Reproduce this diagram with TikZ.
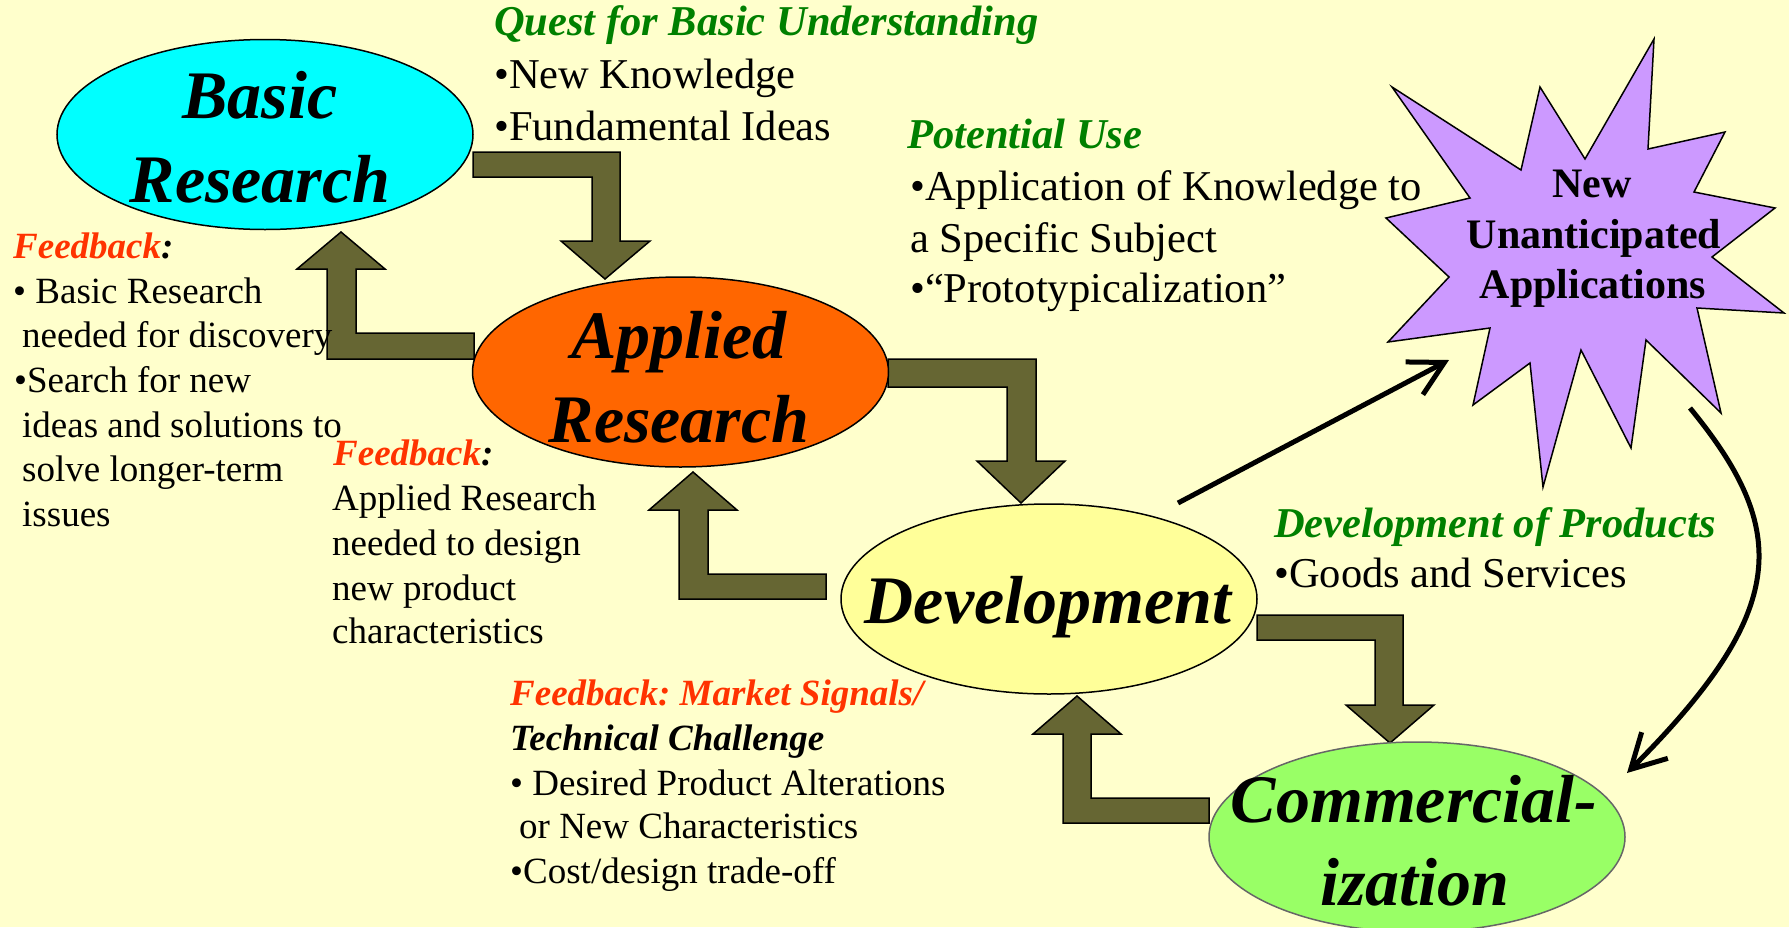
\documentclass[tikz,border=0pt]{standalone}
\usepackage{fontspec}
\setmainfont{Liberation Serif}
\usetikzlibrary{arrows.meta,shapes.geometric}
\definecolor{bgyellow}{HTML}{FFFFCC}
\definecolor{basiccyan}{HTML}{00FFFF}
\definecolor{appliedorange}{HTML}{FF6600}
\definecolor{devyellow}{HTML}{FFFF99}
\definecolor{commgreen}{HTML}{99FF66}
\definecolor{starlilac}{HTML}{CC99FF}
\definecolor{blockolive}{HTML}{666633}
\definecolor{headgreen}{HTML}{008000}
\definecolor{fbred}{HTML}{FF3300}
\definecolor{commborder}{HTML}{666666}
\tikzset{
  ell/.style={ellipse, draw=black, line width=1.5pt, minimum width=416pt, minimum height=190pt, inner sep=0pt},
  bigtext/.style={font=\fontsize{68pt}{82pt}\selectfont\bfseries\itshape, inner sep=0pt, anchor=base},
  startext/.style={font=\fontsize{42pt}{50pt}\selectfont\bfseries, inner sep=0pt, anchor=base},
  bodytext/.style={font=\fontsize{42.5pt}{50pt}\selectfont, inner sep=0pt, anchor=base west},
  smalltext/.style={font=\fontsize{37pt}{44pt}\selectfont, inner sep=0pt, anchor=base west},
  headtext/.style={font=\fontsize{42.5pt}{50pt}\selectfont\bfseries\itshape, text=headgreen, inner sep=0pt, anchor=base west},
  fbtext/.style={font=\fontsize{37pt}{44pt}\selectfont\bfseries\itshape, inner sep=0pt, anchor=base west},
  blockarrow/.style={fill=blockolive, draw=black, line width=1.5pt, line join=miter},
  thinarrow/.style={line width=5pt, -{Straight Barb[length=34pt,width=37pt,line width=5pt]}},
  starshape/.style={fill=starlilac, draw=black, line width=1.5pt, line join=miter},
}
\begin{document}
\frenchspacing
\begin{tikzpicture}[x=1pt,y=-1pt]
\fill[bgyellow] (0,0) rectangle (1789,927);
\useasboundingbox (0,0) rectangle (1789,927);

% block arrows
\draw[blockarrow] (473,152) -- (620,152) -- (620,241) -- (650,241) -- (605,279) -- (561,241) -- (592,241) -- (592,177) -- (473,177) -- cycle;
\draw[blockarrow] (474,333) -- (356,333) -- (356,269) -- (385,269) -- (341,232) -- (297,269) -- (327,269) -- (327,359) -- (474,359) -- cycle;
\draw[blockarrow] (888,359) -- (1036,359) -- (1036,461) -- (1065,461) -- (1021,503) -- (977,461) -- (1007,461) -- (1007,387) -- (888,387) -- cycle;
\draw[blockarrow] (826,574) -- (708,574) -- (708,510) -- (737,510) -- (693,472) -- (649,510) -- (679,510) -- (679,599) -- (826,599) -- cycle;
\draw[blockarrow] (1257,615) -- (1403,615) -- (1403,705) -- (1434,705) -- (1390,743) -- (1346,705) -- (1375,705) -- (1375,640) -- (1257,640) -- cycle;
\draw[blockarrow] (1209,798) -- (1091,798) -- (1091,734) -- (1121,734) -- (1077,696) -- (1033,734) -- (1063,734) -- (1063,823) -- (1209,823) -- cycle;

% ellipses
\node[ell, fill=basiccyan] (basic) at (265,134.5) {};
\node[ell, fill=appliedorange] (applied) at (680.5,372) {};
\node[ell, fill=devyellow] (dev) at (1049,599) {};
\node[ell, fill=commgreen, draw=commborder] (comm) at (1417,837) {};

% star
\draw[starshape] (1392,87) -- (1521,170) -- (1540,87) -- (1585,159) -- (1654,39) -- (1648,149) -- (1725,132) -- (1694,192) -- (1775,208) -- (1712,257) -- (1784,313) -- (1697,308) -- (1721,413) -- (1646,340) -- (1631,448) -- (1581,350) -- (1543,487) -- (1530,363) -- (1473,405) -- (1490,328) -- (1388,342) -- (1449,277) -- (1386,218) -- (1470,198) -- cycle;

% ellipse texts
\node[bigtext] (basicA) at (260,118) {Basic};
\node[bigtext] (basicB) at (260,202) {Research};
\node[bigtext] (appliedA) at (679,358) {Applied};
\node[bigtext] (appliedB) at (679,442) {Research};
\node[bigtext] (devA) at (1048,623) {Development};
\node[bigtext] (commA) at (1414,822) {Commercial-};
\node[bigtext] (commB) at (1415,905) {ization};
\node[startext] (starA) at (1592,197) {New};
\node[startext] (starB) at (1594,248) {Unanticipated};
\node[startext] (starC) at (1593,298) {Applications};

% top texts
\node[headtext] (questH) at (494,35) {Quest for Basic Understanding};
\node[bodytext] (quest1) at (494,88) {•New Knowledge};
\node[bodytext] (quest2) at (494,140) {•Fundamental Ideas};
\node[headtext] (potH) at (907,148) {Potential Use};
\node[bodytext] (pot1) at (910,200) {•Application of Knowledge to};
\node[bodytext] (pot2) at (910,252) {a Specific Subject};
\node[bodytext] (pot3) at (910,302) {•“Prototypicalization”};

% left feedback
\node[fbtext] (fb1H) at (13,258) {\textcolor{fbred}{Feedback}:};
\node[smalltext] (fb1a) at (13,303) {• Basic Research};
\node[smalltext] (fb1b) at (22,347) {needed for discovery};
\node[smalltext] (fb1c) at (14,392) {•Search for new};
\node[smalltext] (fb1d) at (22,437) {ideas and solutions to};
\node[smalltext] (fb1e) at (22,481) {solve longer-term};
\node[smalltext] (fb1f) at (22,526) {issues};

% middle feedback
\node[fbtext] (fb2H) at (333,465) {\textcolor{fbred}{Feedback}:};
\node[smalltext] (fb2a) at (332,510) {Applied Research};
\node[smalltext] (fb2b) at (332,555) {needed to design};
\node[smalltext] (fb2c) at (332,600) {new product};
\node[smalltext] (fb2d) at (332,643) {characteristics};

% lower feedback
\node[fbtext, text=fbred] (fb3H) at (510,705) {Feedback: Market Signals/};
\node[fbtext] (fb3H2) at (510,750) {Technical Challenge};
\node[smalltext] (fb3a) at (510,795) {• Desired Product Alterations};
\node[smalltext] (fb3b) at (519,838) {or New Characteristics};
\node[smalltext] (fb3c) at (510,883) {•Cost/design trade-off};

% products
\node[headtext] (prodH) at (1274,537) {Development of Products};
\node[bodytext] (prod1) at (1274,587) {•Goods and Services};

% black arrows
\coordinate (devout) at (1178,503);
\coordinate (starin) at (1449,360);
\coordinate (starout) at (1690,408);
\coordinate (commin) at (1627,773);
\draw[thinarrow] (devout) -- (starin);
\draw[thinarrow] (starout) .. controls (1790,530) and (1790,610) .. (commin);
\end{tikzpicture}
\end{document}
